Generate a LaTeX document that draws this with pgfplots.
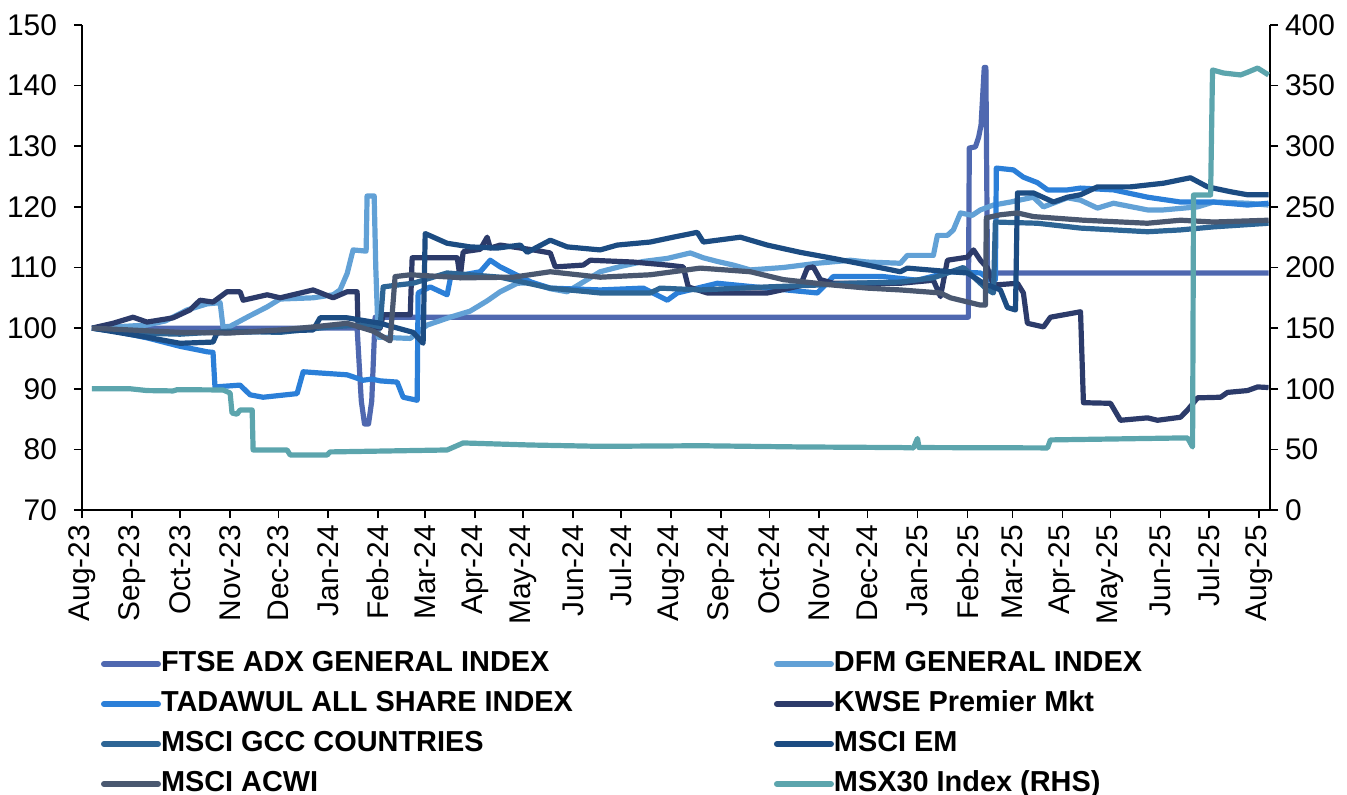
\documentclass[border=0pt]{standalone}
\usepackage{pgfplots}
\pgfplotsset{compat=1.18}
\usepackage{fontspec}
\setmainfont{Liberation Sans}
\definecolor{cftse}{RGB}{79,104,176}
\definecolor{cdfm}{RGB}{98,161,214}
\definecolor{ctad}{RGB}{43,127,216}
\definecolor{ckwse}{RGB}{44,59,106}
\definecolor{cgcc}{RGB}{45,101,149}
\definecolor{cem}{RGB}{28,76,130}
\definecolor{cacwi}{RGB}{74,88,112}
\definecolor{cmsx}{RGB}{92,165,173}
\begin{document}
\begin{tikzpicture}
\useasboundingbox (-41bp,-142.5bp) rectangle (632.5bp,255bp);
\begin{axis}[
 scale only axis, width=594bp, height=242.5bp,
 at={(0,0)}, anchor=south west,
 xmin=0, xmax=738, ymin=70, ymax=150,
 axis x line*=bottom, axis y line*=left,
 axis line style={-, line width=0.8bp, black},
 tick style={black, line width=0.8bp},
 major tick length=4bp, tick align=outside,
 ytick={70,80,...,150},
 xtick={0,31,61,92,122,153,184,213,244,274,305,335,366,397,427,458,488,519,550,578,609,639,670,700,731},
 xticklabels={Aug-23,Sep-23,Oct-23,Nov-23,Dec-23,Jan-24,Feb-24,Mar-24,Apr-24,May-24,Jun-24,Jul-24,Aug-24,Sep-24,Oct-24,Nov-24,Dec-24,Jan-25,Feb-25,Mar-25,Apr-25,May-25,Jun-25,Jul-25,Aug-25},
 tick label style={font=\fontsize{15}{18}\selectfont},
 /pgf/number format/assume math mode=true,
 xticklabel style={rotate=90, anchor=east},
 yticklabel style={xshift=-5bp},
 legend columns=2,
 legend cell align=left,
 legend image code/.code={\draw[#1, line width=3bp, line cap=round] (0bp,0bp) -- (27bp,0bp);},
 legend style={at={(0.0160,-0.2886)}, anchor=north west, draw=none, fill=none,
   inner sep=0pt, outer sep=0pt,
   font=\fontsize{14.5}{17}\selectfont\bfseries,
   /tikz/every even column/.append style={column sep=100.5bp},
   row sep=6bp,
   nodes={inner xsep=0bp, inner ysep=0bp, text height=11bp, text depth=3bp}},
 every axis plot/.append style={line width=2.6bp, line join=round},
]
% FTSE ADX
\addplot[cftse] table {
6.2 100
170.9 100
173.5 88
175.5 84.2
178 84.2
180 88
182.1 101.8
550.6 101.8
551.2 129.7
555 129.9
557 131.5
558.5 133.5
560.5 143
561.5 143
562.5 109.1
737.1 109.1
};
\addlegendentry{FTSE ADX GENERAL INDEX}
% DFM
\addplot[cdfm] table {
6.2 100
20 100.2
40 100.5
52 101.2
65.3 103
77.7 104
85.8 104.2
87.6 100.2
92 100.3
104 102
115 103.5
123 104.8
143.6 105
156 105.5
160.3 106.3
164.7 109
168.4 112.9
176.5 112.7
177.1 121.8
181.5 121.8
182.5 110
184 98.5
203.9 98.3
214.4 100.5
228.7 101.8
241.1 102.8
251.7 104.5
259.8 106
270.4 107.4
278.4 107.5
290.9 106.5
301.4 106
321.9 109.3
335 110.2
348.7 111
363.6 111.5
377.9 112.4
386 111.6
394.7 111
404.6 110.4
415.2 109.6
435.7 110
456.8 110.7
477.3 111.2
487.9 110.9
508.4 110.7
512.7 112
528.9 112
531.4 115.3
537.6 115.3
541.3 116.2
545.7 119
553 118.6
558.1 119.5
566.2 120.3
576.8 120.8
591 121.6
597.3 120
612.2 121.5
620.3 121.1
630.8 119.8
640.8 120.6
661.9 119.5
671.8 119.5
693 120
702.9 120.8
724 120.6
737.1 120.3
};
\addlegendentry{DFM GENERAL INDEX}
% TADAWUL
\addplot[ctad] table {
6.2 100
20 99.5
40.4 98.4
60.9 97
77.7 96.1
81.4 96
82.6 90.3
98.2 90.6
104.4 89
112.5 88.6
133.6 89.2
137.4 92.8
147.9 92.6
164.7 92.3
174.6 91.4
180 91.6
185.2 91.3
195.8 91.1
199.5 88.6
208.2 88.1
208.8 105.8
216.3 106.8
226.8 105.5
229 108.4
247.4 109.3
253.6 111.2
259.8 110.1
272 108.5
279 107.6
290.9 106.6
321.9 106.3
348.7 106.6
363.6 104.6
369.8 105.8
394.7 107.4
425.7 106.6
456.8 105.8
466.7 108.5
497.8 108.5
519 107.9
539.5 109.3
558.1 109.1
564.3 107.9
567.4 108
568 126.4
578.6 126.1
584.8 124.9
593.5 124
599.8 122.8
612.2 122.8
620.3 123.1
640.8 122.8
661.9 121.6
682.4 120.8
702.9 120.8
724 120.3
737.1 120.6
};
\addlegendentry{TADAWUL ALL SHARE INDEX}
% KWSE
\addplot[ckwse] table {
6.2 100
19.3 100.8
31.7 101.8
40.4 101.0
56.6 101.7
67.1 103.0
73.3 104.6
81.4 104.3
90.1 106.0
98.2 106.0
100.1 104.6
115.0 105.5
123.1 105.0
143.6 106.3
156.0 105.0
164.7 106.0
170.9 106.0
171.5 100.2
185.2 100.0
187.1 102.2
203.9 102.2
205.1 111.6
233.1 111.6
234.9 108.3
236.8 112.6
247.4 113.0
251.7 115.0
253.6 113.2
259.8 113.7
280.3 112.9
290.9 112.4
294.0 110.1
311.4 110.4
315.7 111.2
342.4 110.9
363.6 110.4
373.5 110.1
376.6 106.8
388.4 105.8
425.7 105.8
429.5 106.0
446.2 107.0
450.6 109.9
454.3 110.1
458.7 108.0
466.7 107.4
508.4 107.4
528.9 107.9
533.3 105.2
537.6 111.2
550.0 111.7
553.8 112.9
558.1 111.2
562.5 109.9
566.2 107.1
581.1 107.4
584.8 105.8
587.3 100.8
597.3 100.2
601.6 101.8
620.3 102.7
622.1 87.7
638.9 87.6
645.1 84.8
661.9 85.2
668.1 84.8
682.4 85.3
686.8 86.5
693.0 88.5
707.3 88.6
711.6 89.4
724.0 89.7
730.3 90.3
737.1 90.2
};
\addlegendentry{KWSE Premier Mkt}
% MSCI GCC
\addplot[cgcc] table {
6.2 100
29.8 99.2
60.9 99.0
92.0 99.5
123.1 99.3
154.1 100.2
179 100.6
185.2 100.2
187.1 106.8
195.8 107.1
205.7 107.4
226.8 109.1
259.8 108.4
290.9 106.6
321.9 105.8
353.0 105.8
359.2 106.6
384.1 106.3
425.7 106.8
456.8 107.1
477.3 107.4
508.4 107.6
528.9 108.3
547.5 110.0
558.1 107.4
562.5 106.3
566.2 105.8
567.4 117.5
593.5 117.3
620.3 116.5
661.9 115.9
682.4 116.2
702.9 116.7
737.1 117.3
};
\addlegendentry{MSCI GCC COUNTRIES}
% MSCI EM
\addplot[cem] table {
6.2 100
40.4 98.5
60.9 97.5
81.4 97.7
83.9 99.2
143.6 99.7
147.9 101.7
164.7 101.7
185.2 100.8
205.7 99.3
211.9 97.5
213.2 115.6
226.8 114.0
241.1 113.4
257.9 113.2
272.2 113.7
276.6 112.5
290.9 114.5
301.4 113.4
321.9 112.9
332.5 113.7
353.0 114.2
367.3 115.0
382.2 115.8
386.0 114.2
409.0 115.0
425.7 113.7
446.2 112.5
466.7 111.5
487.9 110.4
508.4 109.3
512.7 109.9
539.5 109.3
550.0 109.1
560.0 107.4
570.5 106.3
574.9 103.4
579.9 103.0
581.1 122.3
591.0 122.3
603.5 120.8
612.2 121.6
620.3 122.0
630.8 123.3
651.3 123.3
671.8 123.9
688.6 124.8
699.2 123.3
713.5 122.5
724.0 122.0
737.1 122.0
};
\addlegendentry{MSCI EM}
% MSCI ACWI
\addplot[cacwi] table {
6.2 100
60.9 99.3
92.0 99.2
123.1 99.7
143.6 100.2
164.7 100.8
180.9 99.5
191.4 97.9
194.5 108.5
203.9 108.8
236.8 108.3
267.9 108.4
290.9 109.3
321.9 108.4
353.0 108.8
384.1 109.9
415.2 109.3
435.7 108.0
466.7 107.1
487.9 106.6
508.4 106.3
533.3 105.8
539.5 105.0
558.1 103.8
561.2 103.8
561.8 118.2
570.5 118.7
581.1 119.0
591.0 118.4
622.1 117.8
661.9 117.3
682.4 117.8
702.9 117.5
737.1 117.8
};
\addlegendentry{MSCI ACWI}
\addlegendimage{cmsx}
\addlegendentry{MSX30 Index (RHS)}
\end{axis}
\begin{axis}[
 scale only axis, width=594bp, height=242.5bp,
 at={(0,0)}, anchor=south west,
 xmin=0, xmax=738, ymin=0, ymax=400,
 axis y line*=right, axis x line=none,
 axis line style={-, line width=0.8bp, black},
 tick style={black, line width=0.8bp},
 major tick length=4bp, tick align=outside,
 ytick={0,50,...,400},
 tick label style={font=\fontsize{15}{18}\selectfont},
 /pgf/number format/assume math mode=true,
 every axis plot/.append style={line width=2.6bp, line join=round},
]
\addplot[cmsx] table {
6.2 100
29.8 100
40.4 98.5
56.6 98.2
59.0 99.2
87.6 99.0
92.0 96.5
93.2 80
96.3 79
98.2 82.5
105.7 82.5
106.3 49.5
127.4 49.5
129.3 45.4
152.3 45.4
154.1 47.9
226.8 49.5
236.8 55.3
278.4 53.6
321.9 52.5
384.1 53
446.2 52
508.4 51.5
516.5 51.2
519.0 59
520.0 51.5
599.8 51.2
601.6 57.8
682.4 59.4
686.8 59.4
689.9 52.0
690.5 259.8
701.1 259.8
702.3 362.9
709.1 360.4
719.7 358.8
724.0 361
730.3 364.5
737.1 358.8
};
\end{axis}
\end{tikzpicture}
\end{document}
